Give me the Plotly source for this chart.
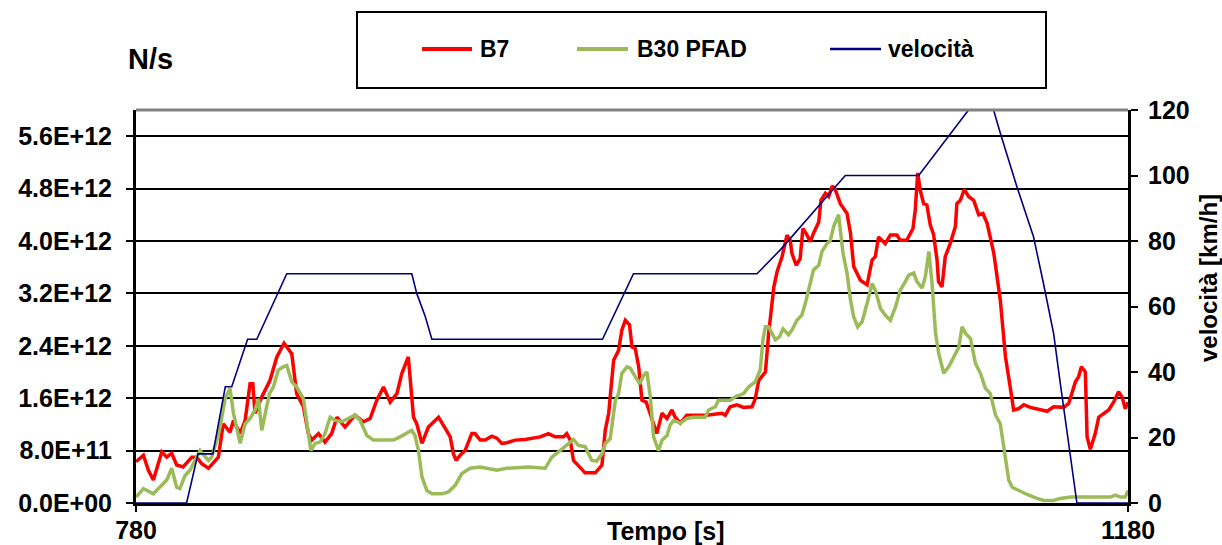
import plotly.graph_objects as go

# ---------------- data ----------------
t_b7 = [780, 783, 785, 787, 790.4, 792.4, 794.4, 796.4, 799, 802.5, 804.5, 806.5, 809.2, 813.2,
        815.2, 817.9, 819.3, 822, 824, 826, 827.1, 828, 830.7, 834, 836.8, 839.7, 842.8, 844.8,
        847.5, 849.5, 850.9, 853.6, 856.2, 858.9, 861, 864.3, 868.3, 871.7, 874.4, 877.1, 879.8,
        882.5, 885.2, 887.2, 889.8, 891.9, 893.2, 895.3, 897.9, 902, 905.3, 906.7, 908, 909.1,
        910.7, 912.7, 915.4, 916.7, 918.8, 920.8, 923.5, 925.5, 927.5, 929.5, 932.9, 936.9, 943,
        946.3, 949, 952.4, 953.7, 955.1, 956.4, 959.1, 961.1, 965.2, 967.9, 969.2, 970.6, 972.6,
        974.6, 975.9, 977.3, 979, 980, 981.3, 982.7, 984, 985.7, 987.1, 988.7, 990, 992.1, 994.1,
        996.1, 997.4, 999.5, 1002.1, 1010, 1016.3, 1017.6, 1019.6, 1022.3, 1025, 1028.4, 1029.7,
        1031.1, 1033.8, 1035.1, 1037.2, 1038.5, 1040.5, 1042.5, 1043.8, 1044.5, 1046.2, 1047.8,
        1048.9, 1050.3, 1051.9, 1053.2, 1055.3, 1056.2, 1058, 1059.3, 1060.7, 1062, 1064, 1066.7,
        1068.1, 1069.4, 1072.1, 1074.8, 1076.8, 1078.1, 1079.4, 1082.1, 1084.2, 1086.8, 1088.2,
        1090.8, 1093.3, 1094.2, 1095.2, 1096.2, 1097.6, 1098.9, 1100.3, 1101.6, 1103, 1103.6,
        1105, 1106.3, 1108.3, 1110.4, 1111, 1112.4, 1114, 1115.7, 1117.8, 1119.8, 1121.5, 1123.2,
        1125.9, 1128.5, 1130.6, 1132.3, 1133.9, 1135.9, 1138, 1140.6, 1143.3, 1147.4, 1150,
        1154.1, 1156.1, 1158.8, 1160.1, 1161.2, 1162.8, 1163.5, 1164.8, 1166.8, 1168.2, 1170.2,
        1172.2, 1174.2, 1176.2, 1177.6, 1178.9, 1180]
b7_e12 = [0.63, 0.73, 0.50, 0.35, 0.78, 0.70, 0.76, 0.58, 0.55, 0.70, 0.70, 0.60, 0.53, 0.70,
          1.21, 1.08, 1.26, 1.06, 1.26, 1.82, 1.82, 1.37, 1.62, 1.87, 2.23, 2.44, 2.28, 1.67,
          1.47, 1.06, 0.96, 1.06, 0.93, 1.06, 1.31, 1.16, 1.34, 1.24, 1.29, 1.57, 1.77,
          1.54, 1.67, 1.98, 2.23, 1.31, 1.21, 0.91, 1.16, 1.31, 1.10, 1.01, 0.75, 0.65,
          0.73, 0.80, 1.06, 1.06, 0.96, 0.96, 1.02, 0.99, 0.91, 0.92, 0.96, 0.97, 1.01,
          1.06, 1.01, 1.01, 1.06, 0.96, 0.65, 0.53, 0.46, 0.46, 0.58, 1.11, 1.37, 2.18,
          2.33, 2.64, 2.79, 2.72, 2.38, 2.36, 2.08, 1.57, 1.54, 1.39, 1.21, 1.06, 1.37, 1.29,
          1.42, 1.31, 1.22, 1.34, 1.34, 1.37, 1.34, 1.47, 1.50, 1.46, 1.47, 1.59,
          1.87, 2.00, 2.59, 3.30, 3.53, 3.76, 4.09, 4.01, 3.81, 3.63, 3.73,
          4.19, 4.11, 3.99, 4.12, 4.29, 4.62, 4.73, 4.68, 4.84, 4.78, 4.57, 4.42,
          4.12, 3.61, 3.40, 3.33, 3.71, 3.76, 4.06, 3.96, 4.09, 4.09, 4.01,
          4.01, 4.19, 4.47, 5.04, 4.78, 4.57, 4.55, 4.24, 4.10, 3.71, 3.38,
          3.30, 3.76, 3.96, 4.22, 4.57, 4.62, 4.79, 4.68, 4.62, 4.40, 4.42, 4.27,
          3.81, 3.10, 2.23, 1.82, 1.42, 1.44, 1.50, 1.46, 1.44, 1.40, 1.47,
          1.46, 1.52, 1.85, 1.93, 2.08, 2.00, 1.01, 0.82, 1.06, 1.31, 1.37,
          1.42, 1.54, 1.70, 1.62, 1.44, 1.54]

t_b30 = [780, 783, 787, 790.4, 792.4, 794.4, 796.4, 797.7, 799.8, 801.8, 803.8, 805.8, 809.2,
         810.5, 812.6, 813.9, 815.9, 817.9, 819.3, 822, 824, 826, 828, 829.4, 830.7, 833.8,
         835.4, 837.4, 839.4, 840.8, 842.8, 844.8, 847.5, 848.8, 850.5, 852.2, 854.2, 856.2,
         858.3, 860.3, 863, 865.6, 868.3, 870.4, 873.1, 875.7, 883.8, 886.5, 889.2, 891.2,
         892.5, 893.9, 895.3, 897.3, 899.3, 903.4, 906, 908.7, 911.4, 914.7, 918.8, 922.1,
         925.5, 929.5, 938.3, 945, 947.7, 951, 953.7, 956.4, 958.4, 961.1, 963.8, 965.8,
         967.9, 969.2, 971.2, 973.3, 974.6, 975.9, 978, 979.3, 981.3, 983.1, 984.7, 986,
         987.4, 988.7, 990.7, 992.1, 994.1, 995.4, 996.8, 999.5, 1002.1, 1004.8, 1009.5,
         1010.9, 1013.6, 1014.9, 1019.6, 1021.6, 1025, 1027, 1029.7, 1031.7, 1032.8, 1033.8,
         1035.1, 1037.8, 1039.5, 1040.9, 1043.1, 1044.5, 1046.5, 1048.5, 1049.9, 1051.2,
         1053.2, 1055.3, 1056.6, 1058.6, 1060, 1061.3, 1063.3, 1065.1, 1066.7, 1068.1,
         1069.4, 1071, 1072.8, 1074.8, 1076.8, 1078.1, 1080.2, 1082.1, 1084.2, 1086.2,
         1088.2, 1090.2, 1091.6, 1093.6, 1094.9, 1097, 1098.3, 1099.7, 1101, 1102.4, 1103.7,
         1105.7, 1107.7, 1111.8, 1113.1, 1114.5, 1116.5, 1118.5, 1120.5, 1122.5, 1124.5,
         1126.6, 1128.5, 1129.9, 1131.9, 1133.3, 1135.9, 1139.3, 1143.3, 1146, 1150, 1152.7,
         1156.8, 1160.8, 1172.9, 1174.9, 1176.9, 1178.9, 1180]
b30_e12 = [0.09, 0.22, 0.14, 0.27, 0.35, 0.53, 0.24, 0.22, 0.42, 0.50, 0.65, 0.80, 0.65,
           0.70, 0.96, 1.16, 1.59, 1.75, 1.37, 0.91, 1.21, 1.29, 1.42, 1.59, 1.11, 1.67,
           1.77, 2.03, 2.08, 2.10, 1.85, 1.77, 1.59, 1.21, 0.80, 0.91, 0.93, 1.06,
           1.31, 1.26, 1.24, 1.29, 1.34, 1.26, 1.03, 0.96, 0.96, 1.01, 1.06, 1.11,
           1.03, 0.80, 0.40, 0.19, 0.14, 0.14, 0.17, 0.27, 0.45, 0.53, 0.55, 0.52,
           0.50, 0.53, 0.55, 0.53, 0.70, 0.80, 0.88, 0.97, 0.88, 0.86, 0.65, 0.64,
           0.75, 0.91, 0.98, 1.57, 1.67, 1.98, 2.08, 2.06, 1.93, 1.82, 1.95, 2.00,
           1.62, 1.01, 0.80, 0.96, 1.03, 1.19, 1.26, 1.22, 1.29, 1.31, 1.31,
           1.42, 1.47, 1.57, 1.57, 1.62, 1.67, 1.77, 1.85, 2.03, 2.49, 2.69,
           2.69, 2.49, 2.54, 2.66, 2.57, 2.64, 2.79, 2.87, 3.05, 3.25,
           3.56, 3.63, 3.84, 3.96, 4.01, 4.22, 4.40, 3.81, 3.51, 3.10,
           2.84, 2.69, 2.77, 3.05, 3.35, 3.25, 2.97, 2.87, 2.79, 2.99,
           3.25, 3.38, 3.48, 3.51, 3.38, 3.28, 3.46, 3.84, 3.35, 2.59, 2.28,
           1.98, 2.08, 2.38, 2.69, 2.59, 2.51, 2.13, 1.98, 1.75, 1.67,
           1.34, 1.21, 0.86, 0.35, 0.24, 0.19, 0.13, 0.07, 0.04, 0.04, 0.07,
           0.09, 0.09, 0.09, 0.12, 0.09, 0.09, 0.19]

t_vel = [780, 800.4, 805, 811, 816, 818.6, 825, 828.7, 840.8, 891.2, 893.2, 896.6, 899.3,
         968.1, 980.6, 1030.4, 1039.8, 1066, 1095.6, 1115.7, 1125.8, 1128.5, 1135.2, 1141.9,
         1145.9, 1150, 1152.7, 1155.4, 1158, 1159.4, 1180]
velocita = [0, 0, 15, 15, 35.5, 35.5, 50, 50, 70, 70, 64, 57, 50,
            50, 70, 70, 77.3, 100, 100, 120, 120, 113, 96.6, 81.3,
            67.1, 51.8, 36.5, 21.2, 8, 0, 0]

left_tickvals_e12 = [0.0, 0.8, 1.6, 2.4, 3.2, 4.0, 4.8, 5.6]
left_ticktext = ["0.0E+00", "8.0E+11", "1.6E+12", "2.4E+12", "3.2E+12", "4.0E+12", "4.8E+12", "5.6E+12"]
right_tickvals = [0, 20, 40, 60, 80, 100, 120]
x_tickvals = [780, 1180]

series_names = ["B7", "B30 PFAD", "velocità"]
series_colors = ["#FF0000", "#9BBB59", "#000080"]

# ---------------- layout helpers ----------------
W, H = 1222, 545
L, R, T, B = 136, 94, 110, 42
PW, PH = W - L - R, H - T - B


def px(x):
    return (x - L) / PW


def py(y):
    return (H - B - y) / PH


FONT = "Liberation Sans, Arial, sans-serif"

fig = go.Figure()
fig.add_trace(go.Scatter(x=t_b7, y=[v * 1e12 for v in b7_e12], mode="lines", name=series_names[0],
                         line=dict(color=series_colors[0], width=3.5), yaxis="y"))
fig.add_trace(go.Scatter(x=t_b30, y=[v * 1e12 for v in b30_e12], mode="lines", name=series_names[1],
                         line=dict(color=series_colors[1], width=3.5), yaxis="y"))
fig.add_trace(go.Scatter(x=t_vel, y=velocita, mode="lines", name=series_names[2],
                         line=dict(color=series_colors[2], width=1.6), yaxis="y2"))

tickfont = dict(family=FONT, size=25, color="black", weight="bold")

fig.update_layout(
    width=W, height=H,
    margin=dict(l=L, r=R, t=T, b=B, pad=0, autoexpand=False),
    paper_bgcolor="white", plot_bgcolor="white",
    showlegend=False,
    xaxis=dict(range=[780, 1180], tickvals=x_tickvals, ticks="outside", ticklen=6,
               tickwidth=2, tickcolor="black", showgrid=False, zeroline=False,
               showline=True, linecolor="black", linewidth=3, tickfont=tickfont,
               ticklabelstandoff=-3, automargin=False),
    yaxis=dict(range=[0, 6.0e12], tickvals=[v * 1e12 for v in left_tickvals_e12],
               ticktext=left_ticktext, ticks="outside", ticklen=7, tickwidth=2,
               tickcolor="black", showgrid=True, gridcolor="black", gridwidth=2,
               zeroline=False, showline=True, linecolor="black", linewidth=3,
               tickfont=tickfont, ticklabelstandoff=9, automargin=False),
    yaxis2=dict(range=[0, 120], tickvals=right_tickvals, overlaying="y", side="right",
                ticks="outside", ticklen=7, tickwidth=2, tickcolor="black",
                showgrid=False, zeroline=False, showline=True, linecolor="black",
                linewidth=3, tickfont=tickfont, ticklabelstandoff=5, automargin=False),
)

shapes = [
    # plot-area top border (gray)
    dict(type="line", xref="paper", yref="paper", x0=0, x1=1, y0=1, y1=1,
         line=dict(color="#808080", width=3)),
    # legend box
    dict(type="rect", xref="paper", yref="paper", x0=px(357), x1=px(1046), y0=py(88), y1=py(12),
         line=dict(color="black", width=2), fillcolor="white"),
]
leg_lines = [(422, 472), (577, 628), (830, 881)]
leg_text_x = [478, 635, 886]
for (a, b), c in zip(leg_lines, series_colors):
    shapes.append(dict(type="line", xref="paper", yref="paper", x0=px(a), x1=px(b),
                       y0=py(49), y1=py(49),
                       line=dict(color=c, width=4 if c != "#000080" else 2.5)))

annotations = []
for name, xx in zip(series_names, leg_text_x):
    annotations.append(dict(text=name, xref="paper", yref="paper", x=px(xx), y=py(49),
                            xanchor="left", yanchor="middle", showarrow=False,
                            font=dict(family=FONT, size=23, color="black", weight="bold")))
annotations += [
    dict(text="N/s", xref="paper", yref="paper", x=px(150), y=py(59), xanchor="center",
         yanchor="middle", showarrow=False,
         font=dict(family=FONT, size=29, color="black", weight="bold")),
    dict(text="Tempo [s]", xref="paper", yref="paper", x=px(666), y=py(531), xanchor="center",
         yanchor="middle", showarrow=False,
         font=dict(family=FONT, size=25, color="black", weight="bold")),
    dict(text="velocità [km/h]", xref="paper", yref="paper", x=px(1208), y=py(278),
         xanchor="center", yanchor="middle", textangle=-90, showarrow=False,
         font=dict(family=FONT, size=24, color="black", weight="bold")),
]
fig.update_layout(shapes=shapes, annotations=annotations)

fig.write_html("out.html")
